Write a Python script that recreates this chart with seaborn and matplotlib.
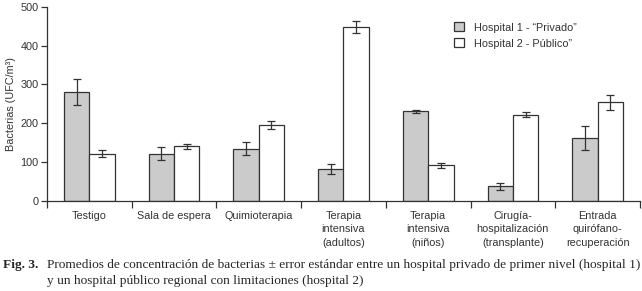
import matplotlib
matplotlib.use("Agg")
import matplotlib.pyplot as plt
import pandas as pd
import seaborn as sns

categories = ["Testigo", "Sala de espera", "Quimioterapia",
              "Terapia\nintensiva\n(adultos)", "Terapia\nintensiva\n(niños)",
              "Cirugía-\nhospitalización\n(transplante)", "Entrada\nquirófano-\nrecuperación"]
hosp1_mean = [280, 122, 135, 82, 231, 38, 162]
hosp1_err = [33, 16, 16, 12, 4, 9, 30]
hosp2_mean = [122, 141, 195, 447, 92, 222, 254]
hosp2_err = [10, 6, 11, 15, 7, 6, 20]
series = ["Hospital 1 - “Privado”", "Hospital 2 - Público”"]

df = pd.DataFrame({
    "cat": categories * 2,
    "val": hosp1_mean + hosp2_mean,
    "serie": [series[0]] * 7 + [series[1]] * 7,
})

sns.set_style("ticks")
plt.rcParams["font.family"] = ["Liberation Sans", "DejaVu Sans"]
dark = "#333333"
fs = 7.8

fig = plt.figure(figsize=(6.42, 2.91), dpi=100)
ax = fig.add_axes([47 / 642, 1 - 201 / 291, 593 / 642, 194.3 / 291])

sns.barplot(data=df, x="cat", y="val", hue="serie", order=categories,
            hue_order=series, palette=["#cbcbcb", "white"], width=0.6,
            edgecolor=dark, linewidth=0.9, errorbar=None, ax=ax)

# error bars: one container per hospital, bars in category order
for cont, errs in zip(ax.containers, [hosp1_err, hosp2_err]):
    for p, e in zip(cont.patches, errs):
        ax.errorbar(p.get_x() + p.get_width() / 2, p.get_height(), yerr=e,
                    fmt="none", ecolor=dark, elinewidth=0.9, capsize=3, capthick=0.9)

ax.set_xlim(-0.5, 6.5)
ax.set_ylim(0, 500)
ax.set_yticks(range(0, 501, 100))
ax.set_xlabel("")
ax.set_ylabel("Bacterias (UFC/m³)", fontsize=fs, color=dark, labelpad=3)
ax.set_xticks([i - 0.5 for i in range(8)], minor=True)
ax.tick_params(axis="x", which="major", length=0, pad=7, labelsize=fs, labelcolor=dark)
ax.tick_params(axis="x", which="minor", length=5, width=0.9, color=dark)
ax.tick_params(axis="y", length=4, width=0.9, color=dark, labelsize=fs, labelcolor=dark, pad=2)
for t in ax.get_xticklabels():
    t.set_linespacing(1.45)
sns.despine(ax=ax)
for s in ["left", "bottom"]:
    ax.spines[s].set_color(dark)
    ax.spines[s].set_linewidth(0.9)

leg = ax.legend(loc="upper left", bbox_to_anchor=(0.67, 0.97), frameon=False,
                fontsize=fs, handlelength=0.9, handleheight=0.9, handletextpad=0.9,
                labelspacing=0.55, labelcolor=dark)

serif = ["Liberation Serif", "DejaVu Serif"]
cs = 9.6
fig.text(3 / 642, 1 - 265 / 291, "Fig. 3.", family=serif, weight="bold",
         fontsize=cs, va="center", ha="left")
fig.text(47 / 642, 1 - 265 / 291,
         "Promedios de concentración de bacterias ± error estándar entre un hospital privado de primer nivel (hospital 1)",
         family=serif, fontsize=cs, va="center", ha="left")
fig.text(47 / 642, 1 - 281 / 291,
         "y un hospital público regional con limitaciones (hospital 2)",
         family=serif, fontsize=cs, va="center", ha="left")

fig.savefig("out.png", dpi=100)
